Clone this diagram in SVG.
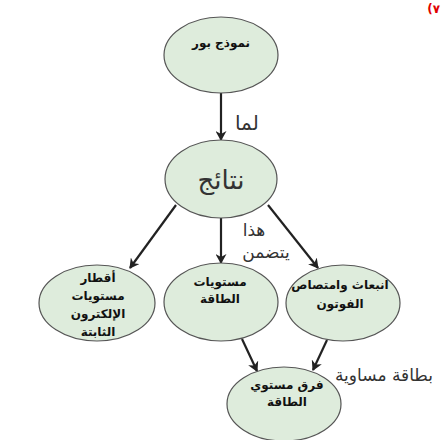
<svg xmlns="http://www.w3.org/2000/svg" width="441" height="440" viewBox="0 0 441 440">
<defs>
<marker id="ah" markerWidth="10" markerHeight="11" refX="9" refY="5.5" orient="auto" markerUnits="userSpaceOnUse" viewBox="0 0 10 11">
<path d="M0,0 L10,5.5 L0,11 L3,5.5 Z" fill="#222"/>
</marker>
</defs>
<style>
.n{fill:#deecdc;stroke:#555;stroke-width:1.2}
.t{font-family:"DejaVu Sans","Noto Sans",sans-serif;font-weight:bold;font-size:12px;fill:#111;text-anchor:middle}
.lb{font-family:"DejaVu Sans","Noto Sans",sans-serif;fill:#333}
.c{stroke:#222;stroke-width:2.2;fill:none;marker-end:url(#ah)}
</style>
<rect width="441" height="440" fill="#fff"/>
<text x="440" y="13" text-anchor="end" style="font-family:'DejaVu Sans',sans-serif;font-size:12px;font-weight:bold;fill:#e00000">(٧</text>
<g id="connectors">
<line class="c" x1="221" y1="93" x2="221" y2="140"/>
<line class="c" x1="176" y1="205" x2="130" y2="268"/>
<line class="c" x1="221" y1="218" x2="221" y2="263"/>
<line class="c" x1="268" y1="205" x2="318" y2="268"/>
<line class="c" x1="242" y1="339" x2="257" y2="371"/>
<line class="c" x1="327" y1="340" x2="313" y2="370"/>
<text class="lb" x="235" y="130" style="font-size:20px">لما</text>
<text class="lb" x="254" y="236" text-anchor="middle" style="font-size:17px">هذا</text>
<text class="lb" x="266" y="258" text-anchor="middle" style="font-size:17px">يتضمن</text>
<text class="lb" x="433" y="381" text-anchor="end" style="font-size:17px">بطاقة مساوية</text>
</g>
<g id="n1"><ellipse class="n" cx="221" cy="55" rx="57" ry="38"/><text class="t" x="221" y="47">نموذج بور</text></g>
<g id="n2"><ellipse class="n" cx="221" cy="179" rx="56" ry="39"/><text class="t" x="221" y="189" style="font-size:26px;font-weight:normal;fill:#333">نتائج</text></g>
<g id="n3"><ellipse class="n" cx="97" cy="303" rx="58" ry="38"/><text class="t" x="98" y="282">أقطار</text><text class="t" x="98" y="300">مستويات</text><text class="t" x="98" y="318">الإلكترون</text><text class="t" x="98" y="336">الثابتة</text></g>
<g id="n4"><ellipse class="n" cx="221" cy="302" rx="57" ry="39"/><text class="t" x="220" y="286">مستويات</text><text class="t" x="220" y="303">الطاقة</text></g>
<g id="n5"><ellipse class="n" cx="343" cy="303" rx="57" ry="38"/><text class="t" x="340" y="289">انبعاث وامتصاص</text><text class="t" x="340" y="308">الفوتون</text></g>
<g id="n6"><ellipse class="n" cx="284" cy="404" rx="57" ry="37"/><text class="t" x="287" y="389">فرق مستوي</text><text class="t" x="287" y="406">الطاقة</text></g>
</svg>
